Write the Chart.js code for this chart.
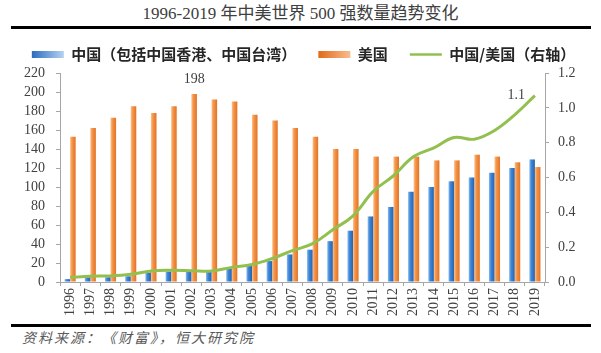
<!DOCTYPE html>
<html>
<head>
<meta charset="utf-8">
<script src="https://cdn.jsdelivr.net/npm/chart.js@4.4.1/dist/chart.umd.min.js"></script>
<style>
  body { margin: 0; width: 601px; height: 353px; background: #fff; position: relative; overflow: hidden; }
  #title { position: absolute; left: 0; top: 5px; width: 601px; text-align: center; font-family: "Liberation Serif", "Noto Sans CJK SC", serif; font-size: 17px; line-height: 18px; color: #404040; }
  .rule { position: absolute; left: 11px; width: 580px; height: 3px; background: #000; }
  #wrap { position: absolute; left: 0; top: 25px; width: 601px; height: 298px; }
  #src { position: absolute; left: 22px; top: 327px; font-family: "Noto Sans CJK SC", sans-serif; font-size: 14px; font-style: italic; letter-spacing: 2px; color: #595959; }
</style>
</head>
<body>
<div id="title">1996-2019 年中美世界 500 强数量趋势变化</div>
<div class="rule" style="top:26px"></div>
<div id="wrap"><canvas id="chart" width="601" height="298"></canvas></div>
<div class="rule" style="top:324px"></div>
<div id="src">资料来源：《财富》，恒大研究院</div>

<script>
const years = ["1996", "1997", "1998", "1999", "2000", "2001", "2002", "2003", "2004", "2005", "2006", "2007",
               "2008", "2009", "2010", "2011", "2012", "2013", "2014", "2015", "2016", "2017", "2018", "2019"];
// number of Global 500 companies
const chinaCount = [3, 5, 5, 6, 10, 11, 11, 12, 14, 17, 22, 29, 34, 43, 54, 69, 79, 95, 100, 106, 110, 115, 120, 129];
const usCount = [153, 162, 173, 185, 178, 185, 198, 192, 190, 176, 170, 162, 153, 140, 140, 132, 132, 132, 128, 128, 134, 132, 126, 121];
// China / US ratio (right axis)
const ratio = [0.027, 0.033, 0.035, 0.044, 0.063, 0.067, 0.065, 0.063, 0.084, 0.10, 0.135, 0.18,
               0.22, 0.30, 0.38, 0.52, 0.61, 0.72, 0.77, 0.83, 0.82, 0.87, 0.96, 1.07];
const seriesNames = ["中国（包括中国香港、中国台湾）", "美国", "中国/美国（右轴）"];
const leftTicks = [0, 220, 20];
const rightTicks = [0, 1.2, 0.2];

const BAR_SHADES = [
  [[0, "#8dbdf0"], [0.35, "#4088d6"], [1, "#2562b0"]],
  [[0, "#fcc28c"], [0.35, "#f4964b"], [1, "#e27223"]]
];
const KEY_SHADES = [
  [[0, "#2a6cc0"], [1, "#b7d2f1"]],
  [[0, "#e06a18"], [1, "#f9bc8e"]]
];
const GREEN = "#92c04f";
const TEXT = "#404040";
const AXIS = "#a6a6a6";
const LEGEND_GAP = 1;

function shade(ctx, x0, x1, stops) {
  let g = ctx.createLinearGradient(x0, 0, x1, 0);
  stops.forEach(([p, c]) => g.addColorStop(p, c));
  return g;
}

// Horizontal gradients on bars and legend swatches, plus extra room under the legend
const shading = {
  id: "shading",
  beforeLayout(chart) {
    let lg = chart.legend;
    if (lg && !lg._gapPatched) {
      let fit = lg.fit.bind(lg);
      lg.fit = function () { fit(); this.height += LEGEND_GAP; };
      lg._gapPatched = true;
    }
  },
  beforeDraw(chart) {
    let lg = chart.legend;
    lg.legendItems.forEach((item, i) => {
      if (i > 1) return;
      let hb = lg.legendHitBoxes[i];
      item.fillStyle = shade(chart.ctx, hb.left, hb.left + 32, KEY_SHADES[i]);
    });
  },
  beforeDatasetsDraw(chart) {
    [0, 1].forEach(di => {
      chart.getDatasetMeta(di).data.forEach(bar => {
        bar.options.backgroundColor = shade(chart.ctx, bar.x - bar.width / 2, bar.x + bar.width / 2, BAR_SHADES[di]);
      });
    });
  }
};

// The two value labels: US peak and last ratio
const valueLabels = {
  id: "valueLabels",
  afterDatasetsDraw(chart) {
    let ctx = chart.ctx;
    ctx.save();
    ctx.font = "14px 'Liberation Serif'";
    ctx.fillStyle = TEXT;
    ctx.textBaseline = "middle";
    let peak = usCount.indexOf(Math.max(...usCount));
    let bar = chart.getDatasetMeta(1).data[peak];
    ctx.textAlign = "center";
    ctx.fillText(String(usCount[peak]), bar.x, bar.y - 15);
    let last = ratio.length - 1;
    let pt = chart.getDatasetMeta(2).data[last];
    ctx.textAlign = "right";
    ctx.fillText(ratio[last].toFixed(1), pt.x - 10, pt.y);
    ctx.restore();
  }
};

const tickFont = { family: "Liberation Serif", size: 14 };

new Chart("chart", {
  data: {
    labels: years,
    datasets: [{
      type: "bar",
      label: seriesNames[0],
      data: chinaCount,
      yAxisID: "y",
      backgroundColor: () => "#4088d6",
      borderWidth: 0,
      categoryPercentage: 0.55,
      barPercentage: 1,
      order: 1
    }, {
      type: "bar",
      label: seriesNames[1],
      data: usCount,
      yAxisID: "y",
      backgroundColor: () => "#f4964b",
      borderWidth: 0,
      categoryPercentage: 0.55,
      barPercentage: 1,
      order: 1
    }, {
      type: "line",
      label: seriesNames[2],
      data: ratio,
      yAxisID: "y1",
      borderColor: GREEN,
      borderWidth: 3,
      pointRadius: 0,
      tension: 0.4,
      fill: false,
      order: 0
    }]
  },
  options: {
    responsive: false,
    animation: false,
    devicePixelRatio: 1,
    layout: { padding: { left: 6, right: 0, top: 0, bottom: 0 } },
    plugins: {
      tooltip: { enabled: false },
      legend: {
        position: "top",
        labels: {
          usePointStyle: true,
          pointStyleWidth: 32,
          boxHeight: 7,
          padding: 22,
          font: { family: "Noto Sans CJK SC", size: 15, weight: "bold" },
          generateLabels: () => [
            { text: seriesNames[0], fillStyle: "#4088d6", strokeStyle: "#4088d6", lineWidth: 0, pointStyle: "rect", fontColor: "#262626", datasetIndex: 0 },
            { text: seriesNames[1], fillStyle: "#f4964b", strokeStyle: "#f4964b", lineWidth: 0, pointStyle: "rect", fontColor: "#262626", datasetIndex: 1 },
            { text: seriesNames[2], fillStyle: GREEN, strokeStyle: GREEN, lineWidth: 2.5, pointStyle: "line", fontColor: "#262626", datasetIndex: 2 }
          ]
        }
      }
    },
    scales: {
      x: {
        offset: true,
        grid: { offset: true, drawOnChartArea: false, tickLength: 4, color: AXIS },
        border: { color: AXIS },
        ticks: { autoSkip: false, minRotation: 90, maxRotation: 90, padding: 2, color: TEXT, font: tickFont },
        afterFit(s) { s.height = 41; }
      },
      y: {
        position: "left",
        min: leftTicks[0],
        max: leftTicks[1],
        grid: { drawOnChartArea: false, tickLength: 4, color: AXIS },
        border: { color: AXIS },
        ticks: { stepSize: leftTicks[2], autoSkip: false, padding: 11, color: TEXT, font: tickFont },
        afterFit(s) { s.width = 54; }
      },
      y1: {
        position: "right",
        min: rightTicks[0],
        max: rightTicks[1],
        grid: { drawOnChartArea: false, tickLength: 4, color: AXIS },
        border: { color: AXIS },
        ticks: { stepSize: rightTicks[2], autoSkip: false, padding: 9, color: TEXT, font: tickFont, callback: v => v.toFixed(1) },
        afterFit(s) { s.width = 56; }
      }
    }
  },
  plugins: [shading, valueLabels]
});
</script>
</body>
</html>
